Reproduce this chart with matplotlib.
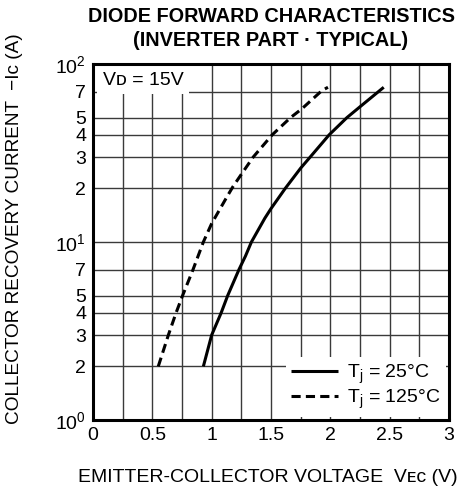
import numpy as np
import matplotlib
matplotlib.use('Agg')
import matplotlib.pyplot as plt
from matplotlib import ticker

plt.rcParams['font.family'] = ['Liberation Sans', 'DejaVu Sans']
plt.rcParams['mathtext.default'] = 'regular'

# (V, A)
vec_25 = [0.93, 1.00, 1.08, 1.135, 1.23, 1.285, 1.335, 1.448, 1.50, 1.62,
          1.75, 1.83, 1.99, 2.14, 2.25, 2.45]
ic_25 = [2, 3, 4, 5, 7, 8.34, 10, 13.6, 15.4, 20, 26, 30, 40, 50, 57.5, 74]
vec_125 = [0.55, 0.635, 0.70, 0.755, 0.843, 0.93, 1.00, 1.13, 1.18, 1.25,
           1.35, 1.51, 1.665, 1.76, 1.93, 1.98]
ic_125 = [2, 3, 4, 5, 7, 10, 12.7, 18, 20.5, 24, 30, 40, 50, 56, 71, 74]

x_ticks = [0, 0.5, 1, 1.5, 2, 2.5, 3]
x_tick_labels = ['0', '0.5', '1', '1.5', '2', '2.5', '3']
y_minor = [2, 3, 4, 5, 7, 20, 30, 40, 50, 70]
y_minor_labels = ['2', '3', '4', '5', '7', '2', '3', '4', '5', '7']

W, H = 469, 496
fig = plt.figure(figsize=(W / 100, H / 100), dpi=100)
ax = fig.add_axes([93 / W, 1 - 420 / H, 356 / W, 356 / H])

ax.set_yscale('log')
ax.set_xlim(0, 3)
ax.set_ylim(1, 100)

ax.set_xticks(x_ticks)
ax.set_xticklabels(x_tick_labels)
ax.set_xticks(np.arange(0.25, 3, 0.5), minor=True)
ax.set_yticks([1, 10, 100])
ax.set_yticklabels([r'$10^0$', r'$10^1$', r'$10^2$'])
ax.yaxis.set_minor_locator(ticker.FixedLocator(y_minor))
ax.yaxis.set_minor_formatter(ticker.FixedFormatter(y_minor_labels))

ax.tick_params(which='both', length=0, labelsize=14, pad=5)
ax.tick_params(axis='x', which='both', pad=5)
ax.grid(True, which='both', color='#3a3a3a', lw=1.0)
ax.set_axisbelow(True)
for sp in ax.spines.values():
    sp.set_linewidth(2.2)
    sp.set_zorder(5)

ax.plot(vec_25, ic_25, color='black', lw=2.2, solid_capstyle='butt',
        solid_joinstyle='round', label='T$_j$ = 25°C', zorder=3)
ax.plot(vec_125, ic_125, color='black', lw=2.2, dashes=(3, 1.7),
        label='T$_j$ = 125°C', zorder=3)

ax.text(0.028, 0.955, 'Vᴅ = 15V', transform=ax.transAxes, fontsize=14,
        va='center', ha='left', zorder=4,
        bbox=dict(facecolor='white', edgecolor='none', pad=4))

leg = ax.legend(loc='lower right', bbox_to_anchor=(1.0, 0.0), fontsize=14,
                frameon=True, fancybox=False, handlelength=2.4,
                handletextpad=0.45, labelspacing=0.1, borderpad=0.3,
                borderaxespad=0.15)
leg.get_frame().set_edgecolor('none')
leg.get_frame().set_facecolor('white')
leg.get_frame().set_alpha(1)
leg.set_zorder(4)

fig.text(271 / W, 1 - 17 / H, 'DIODE FORWARD CHARACTERISTICS',
         ha='center', va='center', fontsize=14.3, fontweight='bold')
fig.text(271 / W, 1 - 41 / H, '(INVERTER PART · TYPICAL)',
         ha='center', va='center', fontsize=14.3, fontweight='bold')

fig.text(15 / W, 1 - 229 / H, 'COLLECTOR RECOVERY CURRENT  −Iᴄ (A)',
         rotation=90, ha='center', va='center', fontsize=13.7)
fig.text(268 / W, 1 - 478 / H, 'EMITTER-COLLECTOR VOLTAGE  Vᴇᴄ (V)',
         ha='center', va='center', fontsize=14)

fig.savefig('out.png', dpi=100, facecolor='white')
